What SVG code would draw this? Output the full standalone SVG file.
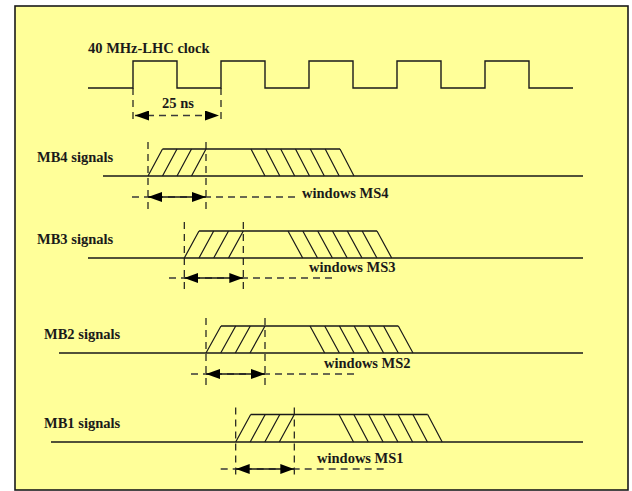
<svg xmlns="http://www.w3.org/2000/svg" width="632" height="491" viewBox="0 0 632 491">
<defs>
<style>
.frame{fill:#FFFF99;stroke:#1a1a1a;stroke-width:1.6}
.sig{fill:none;stroke:#1a1a1a;stroke-width:1.4}
.hatch{fill:none;stroke:#1a1a1a;stroke-width:1.2}
.vdash{fill:none;stroke:#1a1a1a;stroke-width:1.2;stroke-dasharray:7,5}
.hdash{fill:none;stroke:#3a3a3a;stroke-width:1.3;stroke-dasharray:7,5}
.arr{fill:none;stroke:#1a1a1a;stroke-width:1.4}
.lbl{font-family:"Liberation Serif","Times New Roman",serif;font-weight:bold;font-size:14.5px;fill:#1a1a1a}
</style>
<marker id="ah" markerUnits="userSpaceOnUse" markerWidth="14" markerHeight="10" refX="14" refY="5" orient="auto-start-reverse" viewBox="0 0 14 10">
<path d="M0,0 L14,5 L0,10 z" fill="#000"/>
</marker>
</defs>
<rect class="frame" x="15" y="6" width="613" height="484"/>

<g id="clock">
<text class="lbl" x="88" y="53">40 MHz-LHC clock</text>
<path class="sig" d="M88,88 H133 V61 H177 V88 H221 V61 H265 V88 H309 V61 H353 V88 H397 V61 H441 V88 H485 V61 H529 V88 H573"/>
<path class="vdash" d="M133,88 V120 M221,88 V120"/>
<line class="hdash" x1="135" y1="115.5" x2="219" y2="115.5" marker-start="url(#ah)" marker-end="url(#ah)"/>
<text class="lbl" x="162" y="108">25 ns</text>
</g>

<g id="mb4">
<text class="lbl" x="37" y="162">MB4 signals</text>
<path class="sig" d="M103,176 H583 M162.5,149 H340"/>
<path class="hatch" d="M148,176 L162.5,149 M162.5,176 L177,149 M177,176 L191.5,149 M191.5,176 L206,149"/>
<path class="hatch" d="M251,149 L265,176 M265.8,149 L279.8,176 M280.7,149 L294.7,176 M295.5,149 L309.5,176 M310.3,149 L324.3,176 M325.2,149 L339.2,176 M340,149 L354,176"/>
<path class="vdash" d="M148,142 V212 M206,142 V212"/>
<line class="hdash" x1="132" y1="197" x2="297" y2="197"/>
<line class="arr" x1="148" y1="197" x2="206" y2="197" marker-start="url(#ah)" marker-end="url(#ah)"/>
<text class="lbl" x="302" y="198">windows MS4</text>
</g>

<g id="mb3">
<text class="lbl" x="37" y="244">MB3 signals</text>
<path class="sig" d="M88,258 H583 M199,231 H377"/>
<path class="hatch" d="M184.3,258 L199,231 M199,258 L213.7,231 M213.7,258 L228.5,231 M228.5,258 L243.3,231"/>
<path class="hatch" d="M288,231 L302.7,258 M302.8,231 L317.5,258 M317.7,231 L332.4,258 M332.5,231 L347.2,258 M347.3,231 L362,258 M362.2,231 L376.9,258 M377,231 L391.7,258"/>
<path class="vdash" d="M184.3,222 V294 M243.3,222 V294"/>
<line class="hdash" x1="169" y1="278" x2="333" y2="278"/>
<line class="arr" x1="184.3" y1="278" x2="243.3" y2="278" marker-start="url(#ah)" marker-end="url(#ah)"/>
<text class="lbl" x="309" y="272">windows MS3</text>
</g>

<g id="mb2">
<text class="lbl" x="44" y="339">MB2 signals</text>
<path class="sig" d="M59,353 H583 M221,326 H398.3"/>
<path class="hatch" d="M206,353 L221,326 M220.7,353 L235.7,326 M235.3,353 L250.3,326 M250,353 L265,326"/>
<path class="hatch" d="M310,326 L324.7,353 M324.7,326 L339.4,353 M339.4,326 L354.1,353 M354.2,326 L368.9,353 M368.9,326 L383.6,353 M383.6,326 L398.3,353 M398.3,326 L413,353"/>
<path class="vdash" d="M206,318 V389 M265,318 V389"/>
<line class="hdash" x1="191" y1="374" x2="356" y2="374"/>
<line class="arr" x1="206" y1="374" x2="265" y2="374" marker-start="url(#ah)" marker-end="url(#ah)"/>
<text class="lbl" x="324" y="368">windows MS2</text>
</g>

<g id="mb1">
<text class="lbl" x="44" y="428">MB1 signals</text>
<path class="sig" d="M51,442 H583 M250.7,414.5 H427.7"/>
<path class="hatch" d="M235.7,442 L250.7,414.5 M250.2,442 L265.2,414.5 M264.8,442 L279.8,414.5 M279.3,442 L294.3,414.5"/>
<path class="hatch" d="M339,414.5 L353.5,442 M353.8,414.5 L368.3,442 M368.6,414.5 L383.1,442 M383.4,414.5 L397.9,442 M398.1,414.5 L412.6,442 M412.9,414.5 L427.4,442 M427.7,414.5 L442.2,442"/>
<path class="vdash" d="M235.7,407.5 V477 M294.3,407.5 V477"/>
<line class="hdash" x1="220.7" y1="469" x2="386" y2="469"/>
<line class="arr" x1="235.7" y1="469" x2="294.3" y2="469" marker-start="url(#ah)" marker-end="url(#ah)"/>
<text class="lbl" x="317" y="463">windows MS1</text>
</g>
</svg>
